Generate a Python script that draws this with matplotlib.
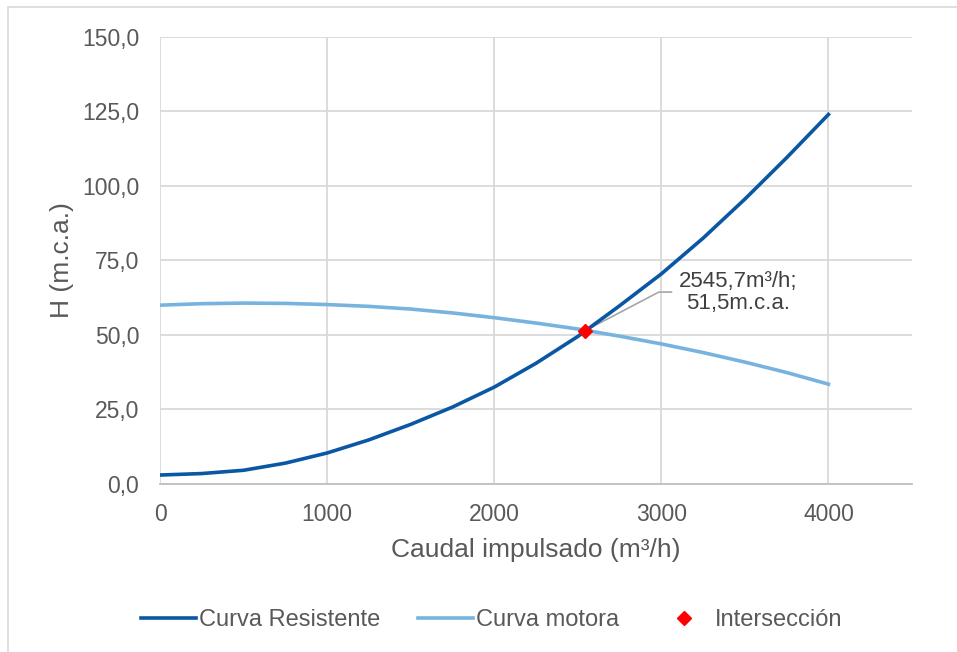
import matplotlib
matplotlib.use("Agg")
import matplotlib.pyplot as plt
from matplotlib.patches import Rectangle
from matplotlib.ticker import FuncFormatter

plt.rcParams['font.family'] = ['Liberation Sans', 'DejaVu Sans']

# data
caudal = [0, 250, 500, 750, 1000, 1250, 1500, 1750, 2000, 2250, 2500,
          2750, 3000, 3250, 3500, 3750, 4000]
h_resistente = [3.0, 3.5, 4.6, 7.0, 10.4, 14.8, 20.0, 25.8, 32.5, 40.5, 49.5,
                59.8, 70.5, 82.5, 95.6, 109.5, 124.0]
h_motora = [60.0, 60.5, 60.7, 60.6, 60.2, 59.6, 58.7, 57.4, 55.8, 54.0, 52.0,
            49.6, 47.0, 44.1, 40.9, 37.4, 33.5]
q_inter = [2545.7]
h_inter = [51.5]
etiqueta = "2545,7m³/h;\n51,5m.c.a."

gris = "#595959"
fig = plt.figure(figsize=(9.57, 6.52), dpi=100)
fig.patches.append(Rectangle((0.008, -0.01), 1.0, 1.0, transform=fig.transFigure,
                             fill=False, edgecolor="#D9D9D9", linewidth=1.2))
ax = fig.add_axes([0.1672, 0.2577, 0.7858, 0.6856])

ax.plot(caudal, h_resistente, color="#0A57A4", linewidth=2.6, label="Curva Resistente", zorder=3)
ax.plot(caudal, h_motora, color="#78B3E0", linewidth=2.6, label="Curva motora", zorder=3)
ax.plot(q_inter, h_inter, linestyle="none", marker="D", markersize=7, color="#FF0000",
        label="Intersección", zorder=4)

# leader line + label of the intersection
codo_x, codo_y, fin_x = 2985, 64.4, 3060
ax.plot([q_inter[0], codo_x, fin_x], [h_inter[0], codo_y, codo_y],
        color="#A6A6A6", linewidth=1.2, zorder=2)
ax.text(3460, 64.2, etiqueta, ha="center", va="center", multialignment="center",
        fontsize=16, color="#404040", linespacing=1.05)

ax.set_xlim(0, 4500)
ax.set_ylim(0, 150)
ax.set_xticks([0, 1000, 2000, 3000, 4000])
ax.set_yticks([0, 25, 50, 75, 100, 125, 150])
ax.yaxis.set_major_formatter(FuncFormatter(lambda v, p: ("%.1f" % v).replace(".", ",")))
ax.grid(True, color="#D9D9D9", linewidth=1.3)
ax.set_axisbelow(True)
for s in ["top", "right", "left"]:
    ax.spines[s].set_visible(False)
ax.spines["bottom"].set_color("#BFBFBF")
ax.spines["bottom"].set_linewidth(1.3)
ax.tick_params(length=0, labelsize=16.5, labelcolor=gris)
ax.tick_params(axis="x", pad=14)
ax.tick_params(axis="y", pad=15)

ax.set_xlabel("Caudal impulsado (m³/h)", fontsize=19, color=gris, labelpad=8)
ax.set_ylabel("H (m.c.a.)", fontsize=19, color=gris, labelpad=6)

fig.legend(loc="center", bbox_to_anchor=(0.514, 0.049), ncol=3, frameon=False,
           fontsize=17, labelcolor=gris, handlelength=2.3, handletextpad=0.15,
           columnspacing=1.6)

fig.savefig("out.png", dpi=100)
